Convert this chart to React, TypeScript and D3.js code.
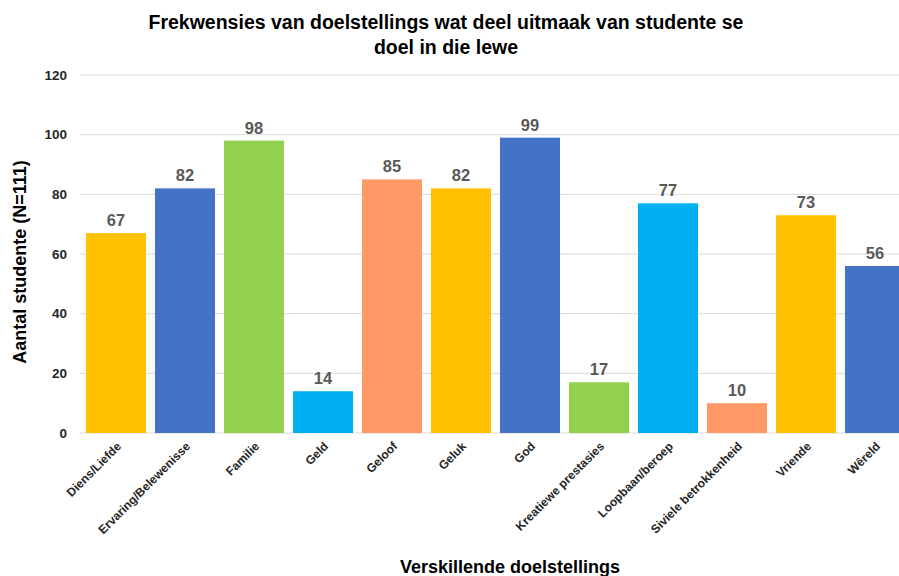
import { useRef, useEffect } from 'react'
import * as d3 from 'd3'

const categories = [
  'Diens/Liefde',
  'Ervaring/Belewenisse',
  'Familie',
  'Geld',
  'Geloof',
  'Geluk',
  'God',
  'Kreatiewe prestasies',
  'Loopbaan/beroep',
  'Siviele betrokkenheid',
  'Vriende',
  'Wêreld',
]
const values = [67, 82, 98, 14, 85, 82, 99, 17, 77, 10, 73, 56]
const barColors = [
  '#FFC000', '#4472C4', '#92D050', '#00B0F0', '#FF9966',
  '#FFC000', '#4472C4', '#92D050', '#00B0F0', '#FF9966',
  '#FFC000', '#4472C4',
]
const yTicks = [0, 20, 40, 60, 80, 100, 120]

const W = 899
const H = 576
const FONT = 'Liberation Sans, Arial, sans-serif'

export default function App() {
  const svgRef = useRef<SVGSVGElement>(null)

  useEffect(() => {
    if (!svgRef.current) return
    const svg = d3.select(svgRef.current)
    svg.selectAll('*').remove()

    const left = 81.5
    const right = 909.5
    const top = 75
    const bottom = 433

    const x = d3.scaleBand<string>().domain(categories).range([left, right]).paddingInner(0.13).paddingOuter(0.065)
    const y = d3.scaleLinear().domain([0, 120]).range([bottom, top])

    // gridlines
    svg.append('g')
      .selectAll('line')
      .data(yTicks)
      .join('line')
      .attr('x1', 80)
      .attr('x2', W)
      .attr('y1', (d) => y(d))
      .attr('y2', (d) => y(d))
      .attr('stroke', '#D9D9D9')
      .attr('stroke-width', 1)

    // y tick labels
    svg.append('g')
      .selectAll('text')
      .data(yTicks)
      .join('text')
      .attr('x', 67)
      .attr('y', (d) => y(d))
      .attr('dy', '0.35em')
      .attr('text-anchor', 'end')
      .attr('font-family', FONT)
      .attr('font-size', '13.5px')
      .attr('font-weight', 700)
      .attr('fill', '#262626')
      .text((d) => d)

    // bars
    svg.append('g')
      .selectAll('rect')
      .data(values)
      .join('rect')
      .attr('x', (_, i) => x(categories[i])!)
      .attr('y', (d) => y(d))
      .attr('width', x.bandwidth())
      .attr('height', (d) => bottom - y(d))
      .attr('fill', (_, i) => barColors[i])

    // value labels
    svg.append('g')
      .selectAll('text')
      .data(values)
      .join('text')
      .attr('x', (_, i) => x(categories[i])! + x.bandwidth() / 2)
      .attr('y', (d) => y(d) - 7)
      .attr('text-anchor', 'middle')
      .attr('font-family', FONT)
      .attr('font-size', '16.5px')
      .attr('font-weight', 700)
      .attr('fill', '#595959')
      .text((d) => d)

    // category labels, rotated
    svg.append('g')
      .selectAll('text')
      .data(categories)
      .join('text')
      .attr('transform', (d) => `translate(${x(d)! + x.bandwidth() / 2 + 6},${bottom + 14}) rotate(-45)`)
      .attr('text-anchor', 'end')
      .attr('font-family', FONT)
      .attr('font-size', '12px')
      .attr('font-weight', 700)
      .attr('fill', '#262626')
      .text((d) => d)

    // title
    const title = svg.append('text')
      .attr('text-anchor', 'middle')
      .attr('font-family', FONT)
      .attr('font-size', '19.5px')
      .attr('font-weight', 700)
      .attr('fill', '#000')
    title.append('tspan').attr('x', 446).attr('y', 29).text('Frekwensies van doelstellings wat deel uitmaak van studente se')
    title.append('tspan').attr('x', 446).attr('y', 54).text('doel in die lewe')

    // y axis title
    svg.append('text')
      .attr('transform', `translate(26,262) rotate(-90)`)
      .attr('text-anchor', 'middle')
      .attr('font-family', FONT)
      .attr('font-size', '18px')
      .attr('font-weight', 700)
      .attr('fill', '#000')
      .text('Aantal studente (N=111)')

    // x axis title
    svg.append('text')
      .attr('x', 510)
      .attr('y', 573)
      .attr('text-anchor', 'middle')
      .attr('font-family', FONT)
      .attr('font-size', '18px')
      .attr('font-weight', 700)
      .attr('fill', '#000')
      .text('Verskillende doelstellings')
  }, [])

  return (
    <svg
      ref={svgRef}
      width={W}
      height={H}
      style={{ position: 'absolute', left: 0, top: 0, background: '#fff' }}
    />
  )
}
